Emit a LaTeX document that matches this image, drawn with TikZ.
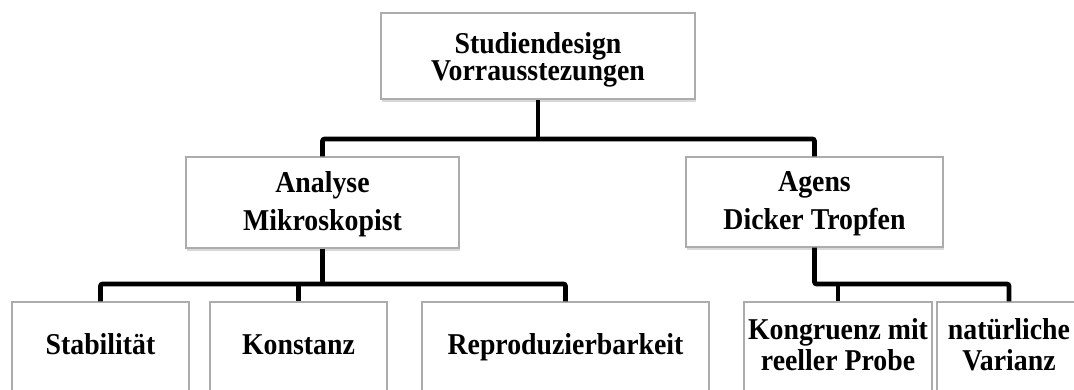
\documentclass[tikz,border=0pt]{standalone}
\usepackage{fontspec}
\usepackage{graphicx}
\setmainfont{Liberation Serif}
\usetikzlibrary{shadows}
\newcommand{\bxtext}[3][0pt]{\raisebox{#1}[\height][\depth]{\scalebox{1.03}[1.12]{\fontsize{27}{#2}\selectfont\bfseries\begin{tabular}{@{}c@{}}#3\end{tabular}}}}
\begin{document}
\begin{tikzpicture}[x=1pt,y=1pt,
  box/.style={draw=gray!65, line width=1.1pt, fill=white, align=center, inner sep=0pt,
    drop shadow={opacity=0.3, shadow xshift=1pt, shadow yshift=-3pt, fill=gray}},
  conn/.style={line width=4.6pt, black, rounded corners=2pt}
]
\useasboundingbox (0,0) rectangle (1074,389);
\clip (0,0) rectangle (1074,389);
\fill[white] (0,0) rectangle (1074,389);

\node[box,minimum width=314pt,minimum height=86pt] (top) at (538,333) {\bxtext[-4pt]{22pt}{Studiendesign\\Vorrausstezungen}};
\node[box,minimum width=273pt,minimum height=91pt] (ana) at (322.5,186.5) {\bxtext[-1pt]{34pt}{Analyse\\Mikroskopist}};
\node[box,minimum width=257pt,minimum height=90pt] (age) at (814.5,187) {\bxtext[-1pt]{34pt}{Agens\\Dicker Tropfen}};

\node[box,minimum width=177pt,minimum height=90pt] (stab) at (100.5,42) {\bxtext[-1pt]{27pt}{Stabilität}};
\node[box,minimum width=177pt,minimum height=90pt] (kon) at (298.5,42) {\bxtext[-1pt]{27pt}{Konstanz}};
\node[box,minimum width=287pt,minimum height=90pt] (rep) at (565.5,42) {\bxtext[-1pt]{27pt}{Reproduzierbarkeit}};
\node[box,minimum width=188pt,minimum height=90pt] (kong) at (838,42) {\bxtext[-2pt]{27pt}{Kongruenz mit\\reeller Probe}};
\node[box,minimum width=144pt,minimum height=90pt] (nat) at (1009,42) {\bxtext[-2pt]{27pt}{natürliche\\Varianz}};

\coordinate (j1) at (538,250);
\coordinate (j2) at (0,105);

\draw[conn] (top.south) -- (j1);
\draw[conn] (ana.north) -- (ana.north |- j1) -- (age.north |- j1) -- (age.north);

\draw[conn] (ana.south) -- (ana.south |- j2);
\draw[conn] (stab.north) -- (stab.north |- j2) -- (rep.north |- j2) -- (rep.north);
\draw[conn] (kon.north) -- (kon.north |- j2);

\draw[conn] (age.south) -- (age.south |- j2) -- (nat.north |- j2) -- (nat.north);
\draw[conn] (kong.north) -- (kong.north |- j2);
\end{tikzpicture}
\end{document}
